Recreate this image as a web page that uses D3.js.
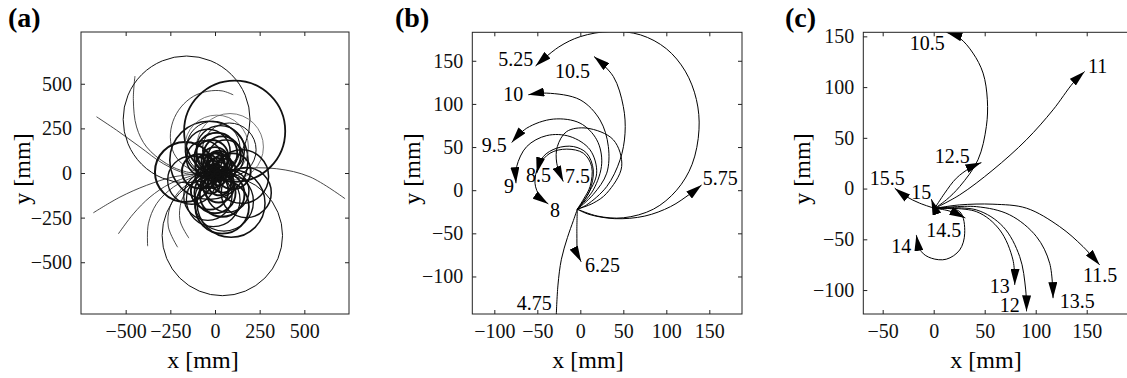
<!DOCTYPE html>
<html>
<head>
<meta charset="utf-8">
<script src="https://cdn.jsdelivr.net/npm/d3@7"></script>
<style>
  body { margin: 0; background: #fff; }
</style>
</head>
<body>
<div id="chart"></div>
<script>
// ---- panel (a): trajectory family, circles [cx, cy, r, weight] and open arcs ----
const aTicks = [-500, -250, 0, 250, 500];
const aCircles = [
  [-159, 300, 355, 1.0], [110, 234, 283, 1.8], [41, -350, 337, 1.0], [-168, 6, 168, 2.0],
  [-34, 71, 219, 1.6], [175, -110, 140, 1.5], [40, -190, 150, 1.8], [84, 146, 187, 0.8],
  [9, 146, 178, 0.8],
  [-40, 120, 125, 1.5], [10, 110, 115, 1.9], [40, 100, 105, 1.9], [-20, 90, 95, 1.9],
  [30, 130, 135, 1.3], [60, 85, 100, 1.5], [-60, 80, 100, 1.5], [0, 70, 75, 1.9],
  [-10, 140, 150, 1.0], [80, 130, 150, 1.0], [20, 60, 65, 1.9],
  [0, -110, 115, 1.9], [40, -120, 125, 1.9], [-30, -100, 105, 1.9], [70, -100, 120, 1.5],
  [20, -80, 85, 1.9], [-10, -150, 150, 1.3], [50, -160, 165, 1.3], [90, -170, 190, 1.5],
  [-40, -130, 135, 1.3],
  [-90, 10, 95, 1.9], [100, 10, 100, 1.9], [150, -20, 150, 1.5], [-130, -40, 135, 1.3],
  [0, 0, 50, 2.0], [30, 20, 40, 2.0], [-20, -10, 35, 2.0],
  [10, 40, 45, 2.0], [-15, 30, 40, 2.0], [20, -30, 40, 2.0], [-10, -40, 45, 2.0],
  [0, 20, 25, 2.0], [5, -15, 25, 2.0], [35, 0, 35, 2.0], [-35, 10, 30, 2.0],
  [15, 60, 55, 1.9], [-25, -60, 55, 1.9], [40, 45, 55, 1.9], [45, -50, 60, 1.9],
  [-5, 50, 60, 2.0], [25, -60, 65, 2.0], [-45, 40, 65, 2.0], [55, 20, 60, 2.0],
  [-50, -25, 60, 2.0], [10, 10, 15, 2.0], [-10, 15, 20, 2.0], [15, -5, 18, 2.0]
];
const aArcs = [
  [[-663, 315], [-551, 240], [-420, 146], [-289, 52], [-159, -4], [-28, -13]],
  [[-681, -223], [-532, -135], [-383, -69], [-233, -22], [-84, -4]],
  [[-541, -341], [-457, -229], [-364, -135], [-252, -60], [-121, -13]],
  [[-377, -410], [-373, -285], [-327, -172], [-233, -79], [-121, -22]],
  [[-209, -416], [-261, -303], [-252, -191], [-196, -97], [-103, -32]],
  [[-146, -365], [-196, -266], [-187, -154], [-140, -79], [-65, -22]],
  [[-9, -4], [140, 24], [345, 24], [532, -22], [728, -144]],
  [[-448, 543], [-457, 408], [-439, 258], [-383, 146], [-271, 52], [-159, 6], [-9, -4]],
  [[102, 438], [40, 460], [-40, 458], [-120, 430], [-190, 370], [-235, 290], [-250, 200], [-230, 110], [-170, 40], [-90, 5], [0, 0]]
];

// ---- panel (b): runs 4.75 .. 10.5 ----
const bTicksX = [-100, -50, 0, 50, 100, 150];
const bTicksY = [-100, -50, 0, 50, 100, 150];
const bRuns = [
  { label: '4.75', arrow: false, pts: [[-28, -146], [-26, -110], [-22, -80], [-15, -55], [-8, -35], [-3.5, -22]] },
  { label: '5.25', arrow: true, pts: [[-3.5, -22], [20, -30], [50, -32], [85, -22], [112, 0], [130, 30], [138, 70], [135, 105], [122, 138], [100, 164], [70, 180], [35, 184], [0, 178], [-25, 166], [-52, 144]] },
  { label: '5.75', arrow: true, pts: [[-3.5, -22], [10, -28], [40, -33], [75, -30], [105, -19], [128, -4], [141, 6]] },
  { label: '6.25', arrow: true, pts: [[-3.5, -22], [-4, -50], [-3, -73], [1, -83]] },
  { label: '7.5', arrow: true, pts: [[-3.5, -22], [15, -15], [30.7, -3.5], [48.1, 27.4], [38.4, 58.4], [7.4, 71.9], [-15.8, 68], [-26.7, 50.6], [-27.4, 31.3], [-19.8, 10]] },
  { label: '8', arrow: true, pts: [[-3.5, -22], [4, -10], [11.3, 4.2], [13.2, 27.4], [3.5, 42.9], [-15.8, 47.6], [-35.2, 42.9], [-48.8, 27.4], [-52.7, 8.1], [-46.9, -7.4], [-37.2, -15.9]] },
  { label: '8.5', arrow: true, pts: [[-3.5, -22], [5, -11], [11.3, 0.3], [15.1, 23.5], [7.4, 42.9], [-8.1, 50.6], [-27.4, 48.7], [-43, 39], [-50.7, 19.7]] },
  { label: '9', arrow: true, pts: [[-3.5, -22], [8, -6], [19, 19.7], [11.3, 46.8], [-12, 62.2], [-39, 63.3], [-62.3, 50.6], [-74, 27.4], [-74.8, 8.1]] },
  { label: '9.5', arrow: true, pts: [[-3.5, -22], [15.1, 0.3], [24.9, 31.3], [19.1, 58.4], [-0.3, 77.7], [-31.4, 82.4], [-62.3, 71.9], [-79.8, 55.2]] },
  { label: '10', arrow: true, pts: [[-3.5, -22], [15, -5], [30.7, 19.7], [32.6, 50.6], [22.9, 81.4], [-0.3, 104.8], [-39, 112.5], [-60.5, 110.6]] },
  { label: '10.5', arrow: true, pts: [[-3.5, -22], [7.4, -17], [30.7, 4.2], [46.2, 35.1], [52, 66], [50, 97], [38.4, 131.8], [15.9, 155]] }
];
// [text, x, y] in data units, left edge / baseline
const bLabels = [
  ['5.25', -95.3, 143.4], ['10.5', -29.4, 130.3], ['10', -89.5, 102.8], ['9.5', -114.7, 44.8],
  ['9', -88.7, -3.1], ['8.5', -63.1, 10], ['7.5', -17.8, 8.1], ['8', -35.2, -30.6],
  ['6.25', 5.5, -94.4], ['5.75', 142.3, 6.1], ['4.75', -74, -138.9]
];

// ---- panel (c): runs 10.5 .. 15.5 ----
const cTicksX = [-50, 0, 50, 100, 150];
const cTicksY = [-100, -50, 0, 50, 100, 150];
const cStart = [1, -19.5];
const cRuns = [
  { label: '10.5', pts: [cStart, [12.4, -11.1], [25.5, 2], [43.4, 28.3], [51.6, 61.1], [52.6, 87.5], [48.4, 113.8], [38.5, 133.5], [25.5, 148.3], [12.4, 154]] },
  { label: '11', pts: [cStart, [25.5, -6.2], [58.1, 18.4], [90.8, 48], [117, 77.6], [136.6, 104], [148, 115.4]] },
  { label: '11.5', pts: [cStart, [25.5, -16.1], [58.1, -15.4], [90.9, -19.3], [123.5, -37.5], [146.4, -57.2], [162.7, -75.2]] },
  { label: '12', pts: [cStart, [41.8, -21], [68, -37.5], [84.3, -67], [90.2, -99.9], [91, -121]] },
  { label: '12.5', pts: [cStart, [10.8, -4.5], [22.2, 10.2], [35.3, 20.1], [46.8, 25.6]] },
  { label: '13', pts: [cStart, [41.8, -22.7], [64.7, -40.7], [77.7, -70.3], [79.4, -95]] },
  { label: '13.5', pts: [cStart, [41.8, -17.8], [74.5, -25.9], [100.7, -47.3], [113.7, -73.6], [117, -108]] },
  { label: '14', pts: [cStart, [25.5, -22.7], [30.4, -44], [25.5, -60.5], [12.4, -69.6], [-2.3, -68.6], [-12.1, -62.1], [-17, -45.7]] },
  { label: '14.5', pts: [cStart, [15, -22], [31, -29]] },
  { label: '15', pts: [cStart, [-2.3, -10.5]] },
  { label: '15.5', pts: [cStart, [-13.7, -14.4], [-26.8, -7.9], [-38.2, 0.4]] }
];
const cLabels = [
  ['10.5', -23.5, 136.8], ['11', 151.3, 113.8], ['12.5', 1, 25], ['15.5', -62.7, 3.6],
  ['15', -21.9, -10.2], ['14.5', -7.2, -47.3], ['14', -41.5, -63.7], ['13', 54.9, -103.2],
  ['12', 64.7, -121.3], ['13.5', 123.5, -118], ['11.5', 146.4, -91.7]
];

const W = 1127, H = 378;
const FONT = "'Liberation Serif', 'Times New Roman', 'DejaVu Serif', serif";
const svg = d3.select('#chart').append('svg')
  .attr('width', W).attr('height', H)
  .style('font-family', FONT);

const defs = svg.append('defs');
defs.append('marker')
  .attr('id', 'arrow')
  .attr('viewBox', '0 0 16 9')
  .attr('refX', 16).attr('refY', 4.5)
  .attr('markerWidth', 16).attr('markerHeight', 9)
  .attr('markerUnits', 'userSpaceOnUse')
  .attr('orient', 'auto')
  .append('path')
    .attr('d', 'M0,0L16,4.5L0,9Z')
    .attr('fill', '#000');

function panel({ id, letter, letterX, box, xDomain, yDomain, xTicks, yTicks, xLabelX, yLabelX }) {
  const x = d3.scaleLinear().domain(xDomain).range([box.left, box.right]);
  const y = d3.scaleLinear().domain(yDomain).range([box.bottom, box.top]);
  const g = svg.append('g').attr('class', 'panel-' + id);

  defs.append('clipPath').attr('id', 'clip-' + id)
    .append('rect')
      .attr('x', box.left).attr('y', box.top)
      .attr('width', box.right - box.left).attr('height', box.bottom - box.top);

  const plot = g.append('g').attr('clip-path', `url(#clip-${id})`);

  // box
  g.append('rect')
    .attr('x', box.left).attr('y', box.top)
    .attr('width', box.right - box.left).attr('height', box.bottom - box.top)
    .attr('fill', 'none').attr('stroke', '#222').attr('stroke-width', 1);

  const styleAxis = sel => {
    sel.attr('font-size', null).attr('font-family', FONT).attr('color', '#222');
    sel.select('.domain').remove();
    sel.selectAll('text').attr('fill', '#111').style('font-size', '20px').style('font-family', FONT);
  };
  g.append('g').attr('transform', `translate(0,${box.bottom})`)
    .call(d3.axisBottom(x).tickValues(xTicks).tickSize(-4).tickPadding(9.5))
    .call(styleAxis);
  g.append('g').attr('transform', `translate(0,${box.top})`)
    .call(d3.axisTop(x).tickValues(xTicks).tickSize(-4).tickFormat(''))
    .call(styleAxis);
  g.append('g').attr('transform', `translate(${box.left},0)`)
    .call(d3.axisLeft(y).tickValues(yTicks).tickSize(-4).tickPadding(9))
    .call(styleAxis);
  g.append('g').attr('transform', `translate(${box.right},0)`)
    .call(d3.axisRight(y).tickValues(yTicks).tickSize(-4).tickFormat(''))
    .call(styleAxis);

  g.append('text')
    .attr('x', xLabelX).attr('y', 368)
    .attr('text-anchor', 'middle')
    .style('font-size', '24px').style('font-family', FONT)
    .text('x [mm]');
  g.append('text')
    .attr('transform', `translate(${yLabelX},169) rotate(-90)`)
    .attr('text-anchor', 'middle')
    .style('font-size', '24px').style('font-family', FONT)
    .text('y [mm]');
  g.append('text')
    .attr('x', letterX).attr('y', 27)
    .style('font-size', '28px').style('font-weight', 'bold').style('font-family', FONT)
    .text(letter);

  return { g, plot, x, y };
}

// ---- (a) ----
const A = panel({
  id: 'a', letter: '(a)', letterX: 8,
  box: { left: 81, right: 349, top: 32, bottom: 314 },
  xDomain: [-750, 750], yDomain: [-790, 790],
  xTicks: aTicks, yTicks: aTicks, xLabelX: 203, yLabelX: 30
});
const lineA = d3.line().x(d => A.x(d[0])).y(d => A.y(d[1])).curve(d3.curveCatmullRom.alpha(0.5));
A.plot.selectAll('path.arc').data(aArcs).join('path')
  .attr('class', 'arc')
  .attr('d', lineA)
  .attr('fill', 'none').attr('stroke', '#333').attr('stroke-width', 0.9);
A.plot.selectAll('circle').data(aCircles).join('circle')
  .attr('cx', d => A.x(d[0])).attr('cy', d => A.y(d[1]))
  .attr('r', d => A.x(d[2]) - A.x(0))
  .attr('fill', 'none')
  .attr('stroke', d => d[3] < 1 ? '#555' : '#111')
  .attr('stroke-width', d => d[3]);

// ---- (b) ----
const B = panel({
  id: 'b', letter: '(b)', letterX: 395,
  box: { left: 472.3, right: 742, top: 32.3, bottom: 314 },
  xDomain: [-125.6, 188], yDomain: [-143.5, 183],
  xTicks: bTicksX, yTicks: bTicksY, xLabelX: 588, yLabelX: 420
});
const lineB = d3.line().x(d => B.x(d[0])).y(d => B.y(d[1])).curve(d3.curveCatmullRom.alpha(0.5));
B.plot.selectAll('path.run').data(bRuns).join('path')
  .attr('class', 'run')
  .attr('d', d => lineB(d.pts))
  .attr('fill', 'none').attr('stroke', '#000').attr('stroke-width', 1)
  .attr('marker-end', d => d.arrow ? 'url(#arrow)' : null);
B.g.selectAll('text.lbl').data(bLabels).join('text')
  .attr('class', 'lbl')
  .attr('x', d => B.x(d[1])).attr('y', d => B.y(d[2]))
  .style('font-size', '20px').style('font-family', FONT)
  .text(d => d[0]);

// ---- (c) ----
const C = panel({
  id: 'c', letter: '(c)', letterX: 785,
  box: { left: 863.3, right: 1131.6, top: 32.3, bottom: 314 },
  xDomain: [-69, 194], yDomain: [-123.6, 154],
  xTicks: cTicksX, yTicks: cTicksY, xLabelX: 986, yLabelX: 810
});
const lineC = d3.line().x(d => C.x(d[0])).y(d => C.y(d[1])).curve(d3.curveCatmullRom.alpha(0.5));
C.plot.selectAll('path.run').data(cRuns).join('path')
  .attr('class', 'run')
  .attr('d', d => lineC(d.pts))
  .attr('fill', 'none').attr('stroke', '#000').attr('stroke-width', 1)
  .attr('marker-end', 'url(#arrow)');
C.g.selectAll('text.lbl').data(cLabels).join('text')
  .attr('class', 'lbl')
  .attr('x', d => C.x(d[1])).attr('y', d => C.y(d[2]))
  .style('font-size', '20px').style('font-family', FONT)
  .text(d => d[0]);
</script>
</body>
</html>
